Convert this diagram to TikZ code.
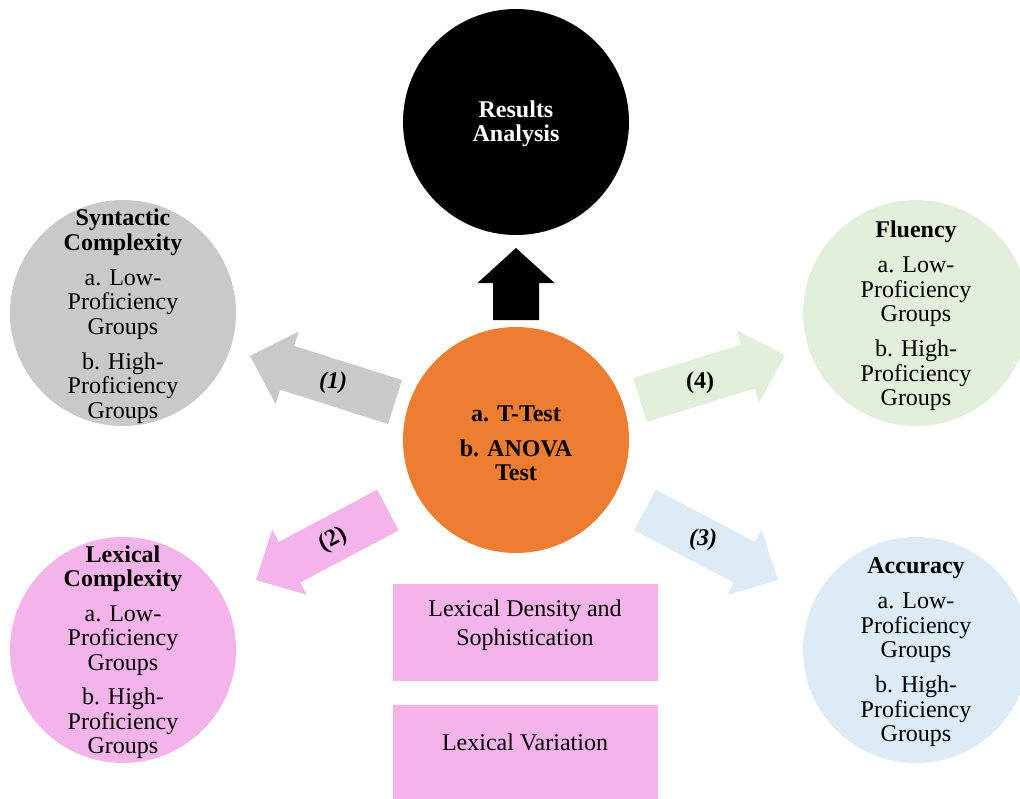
\documentclass[tikz,border=0pt]{standalone}
\usepackage{fontspec}
\setmainfont{Liberation Serif}
\usetikzlibrary{calc}
\definecolor{cgray}{HTML}{C9C9C9}
\definecolor{cpink}{HTML}{F4B4EA}
\definecolor{cgreen}{HTML}{E2EFDA}
\definecolor{cblue}{HTML}{DDEBF7}
\definecolor{corange}{HTML}{ED7D31}
\tikzset{
  circ/.style={circle, minimum size=226pt, inner sep=0pt, draw=none},
  txt/.style={align=center, font=\fontsize{24}{24.5}\selectfont, inner sep=0pt},
  boxtxt/.style={align=center, font=\fontsize{24}{29}\selectfont, inner sep=0pt},
  lbl/.style={font=\fontsize{24}{24}\selectfont\bfseries, inner sep=0pt},
  pbox/.style={rectangle, fill=cpink, minimum width=265pt, inner sep=0pt, draw=none},
}
\newcommand{\blockarr}[6]{% color, tail, tip, shaft half, head half, head length
  \path ($(#3)!#6!(#2)$) coordinate (hb);
  \fill[#1] ($(#2)!#4!90:(#3)$) -- ($(hb)!#4!90:(#3)$) -- ($(hb)!#5!90:(#3)$)
    -- (#3) -- ($(hb)!#5!-90:(#3)$) -- ($(hb)!#4!-90:(#3)$) -- ($(#2)!#4!-90:(#3)$) -- cycle;
}
\begin{document}
\begin{tikzpicture}[x=1pt, y=-1pt]
\useasboundingbox (0,0) rectangle (1020,798);
\clip (0,0) rectangle (1020,798);

% arrow end points
\coordinate (t0) at (516,320); \coordinate (p0) at (516,248);
\coordinate (t1) at (395,402); \coordinate (p1) at (250,356);
\coordinate (t2) at (388,510); \coordinate (p2) at (256,580);
\coordinate (t3) at (645,510); \coordinate (p3) at (778,580);
\coordinate (t4) at (640,400); \coordinate (p4) at (785,355);

\blockarr{black}{t0}{p0}{23pt}{38.5pt}{35pt}
\blockarr{cgray}{t1}{p1}{23pt}{38pt}{39pt}
\blockarr{cpink}{t2}{p2}{23pt}{37pt}{38pt}
\blockarr{cblue}{t3}{p3}{23pt}{37pt}{38pt}
\blockarr{cgreen}{t4}{p4}{23pt}{38pt}{39pt}

% circles
\node[circ, fill=black]   (res) at (516,122) {};
\node[circ, fill=cgray]   (syn) at (123,313) {};
\node[circ, fill=cpink]   (lex) at (123,650) {};
\node[circ, fill=cgreen]  (flu) at (916,313) {};
\node[circ, fill=cblue]   (acc) at (916,650) {};
\node[circ, fill=corange] (tst) at (516,440) {};

% circle texts
\node[txt, text=white, font=\fontsize{24}{24}\selectfont\bfseries] (restxt) at (516,124) {Results\\Analysis};
\node[txt] (syntxt) at (123,316) {\textbf{Syntactic}\\\textbf{Complexity}\\[10.5pt]a. Low-\\Proficiency\\Groups\\[10.5pt]b. High-\\Proficiency\\Groups};
\node[txt] (lextxt) at (123,652) {\textbf{Lexical}\\\textbf{Complexity}\\[10pt]a. Low-\\Proficiency\\Groups\\[10pt]b. High-\\Proficiency\\Groups};
\node[txt] (flutxt) at (916,316) {\textbf{Fluency}\\[10.5pt]a. Low-\\Proficiency\\Groups\\[10.5pt]b. High-\\Proficiency\\Groups};
\node[txt] (acctxt) at (916,652.5) {\textbf{Accuracy}\\[10.5pt]a. Low-\\Proficiency\\Groups\\[10.5pt]b. High-\\Proficiency\\Groups};
\node[txt, font=\fontsize{24}{24}\selectfont\bfseries] (tsttxt) at (516,443) {a. T-Test\\[11pt]b. ANOVA\\Test};

% arrow labels
\node[lbl] (l1) at (333,383) {\itshape (1)};
\node[lbl, rotate=28] (l2) at (333,540) {(2)};
\node[lbl] (l3) at (703,540) {\itshape (3)};
\node[lbl] (l4) at (700,383) {(4)};

% boxes
\node[pbox, minimum height=97pt] (b1) at (525.5,632.5) {};
\node[pbox, minimum height=94pt] (b2) at (525.5,752) {};
\node[boxtxt] (b1txt) at (525,625) {Lexical Density and\\Sophistication};
\node[boxtxt] (b2txt) at (525,742.5) {Lexical Variation};
\end{tikzpicture}
\end{document}
